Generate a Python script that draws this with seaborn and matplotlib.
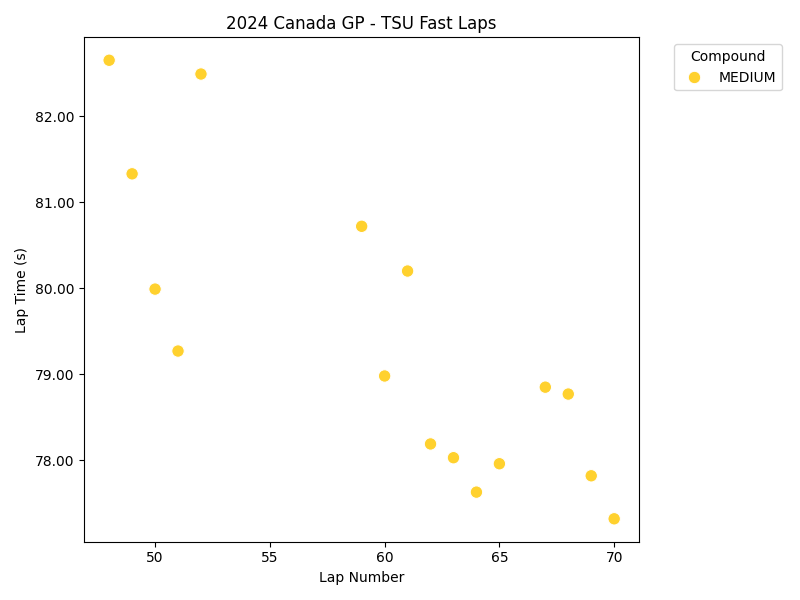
import matplotlib
matplotlib.use("Agg")
import matplotlib.pyplot as plt
import seaborn as sns
import pandas as pd
from matplotlib.ticker import FormatStrFormatter

laps = [48, 49, 50, 51, 52, 59, 60, 61, 62, 63, 64, 65, 67, 68, 69, 70]
lap_times = [82.65, 81.33, 79.99, 79.27, 82.49, 80.72, 78.98, 80.20,
             78.19, 78.03, 77.63, 77.96, 78.85, 78.77, 77.82, 77.32]
compounds = ["MEDIUM"] * len(laps)

df = pd.DataFrame({"LapNumber": laps, "LapTime": lap_times, "Compound": compounds})

fig, ax = plt.subplots(figsize=(8, 6), dpi=100)
sns.scatterplot(data=df, x="LapNumber", y="LapTime", hue="Compound",
                palette={"MEDIUM": "#FFD12E"}, s=80, ax=ax)
ax.yaxis.set_major_formatter(FormatStrFormatter("%.2f"))
ax.set_title("2024 Canada GP - TSU Fast Laps")
ax.set_xlabel("Lap Number")
ax.set_ylabel("Lap Time (s)")
ax.legend(title="Compound", bbox_to_anchor=(1.05, 1), loc="upper left")
fig.tight_layout()
fig.savefig("out.png")
